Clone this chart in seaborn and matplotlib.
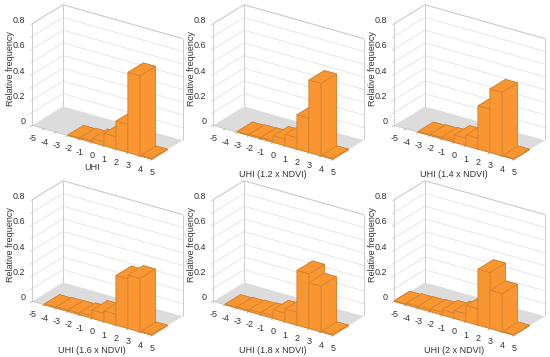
import numpy as np
import matplotlib
matplotlib.use('Agg')
import matplotlib.pyplot as plt
import seaborn as sns
from mpl_toolkits.mplot3d.art3d import Poly3DCollection

sns.set_theme(style='white', font='Liberation Sans')

bins = [-5, -4, -3, -2, -1, 0, 1, 2, 3, 4]
tick_labels = [-5, -4, -3, -2, -1, 0, 1, 2, 3, 4, 5]
z_major = [0, 0.2, 0.4, 0.6, 0.8]
z_grid = [0.1, 0.2, 0.3, 0.4, 0.5, 0.6, 0.7, 0.8]

uhi_10 = [0, 0, 0, 0.005, 0.01, 0.03, 0.096, 0.22, 0.63, 0.005]
uhi_12 = [0, 0, 0.005, 0.01, 0.012, 0.05, 0.088, 0.27, 0.57, 0.005]
uhi_14 = [0, 0, 0.005, 0.01, 0.015, 0.057, 0.085, 0.34, 0.50, 0.005]
uhi_16 = [0, 0.005, 0.01, 0.012, 0.02, 0.065, 0.085, 0.39, 0.42, 0.005]
uhi_18 = [0, 0.005, 0.01, 0.015, 0.02, 0.067, 0.10, 0.43, 0.36, 0.005]
uhi_20 = [0.005, 0.012, 0.015, 0.02, 0.04, 0.06, 0.127, 0.44, 0.30, 0.005]

panels = [uhi_10, uhi_12, uhi_14, uhi_16, uhi_18, uhi_20]
titles = ['UHI', 'UHI (1.2 x NDVI)', 'UHI (1.4 x NDVI)',
          'UHI (1.6 x NDVI)', 'UHI (1.8 x NDVI)', 'UHI (2 x NDVI)']
label_drop = [0.20, 0.25, 0.25, 0.25, 0.25, 0.25]

orange = '#fa9632'
edge = '#cf8230'
grid = '#e6e6e6'
frame = '#cccccc'
floor = '#dcdcdc'
text_col = '#333333'

W, H = 550, 357
side = 190

fig = plt.figure(figsize=(W / 100, H / 100), dpi=100)

for i, vals in enumerate(panels):
    row, col = divmod(i, 3)
    cx = 107.5 + 181 * col
    cy = H - (82 + 176 * row)
    ax = fig.add_axes([(cx - 0.5135 * side) / W, (cy - 0.5135 * side) / H, side / W, side / H],
                      projection='3d', computed_zorder=False)
    ax.patch.set_visible(False)
    ax.set_proj_type('ortho')
    ax.view_init(elev=24.6, azim=-55.8)
    ax.set_box_aspect((145, 55, 112), zoom=0.976)
    ax.set_xlim(-5, 5)
    ax.set_ylim(0, 1)
    ax.set_zlim(0, 0.8)
    ax.set_axis_off()

    # floor and walls
    ax.add_collection3d(Poly3DCollection([[(-5, 0, 0), (5, 0, 0), (5, 1, 0), (-5, 1, 0)]],
                                         facecolor=floor, edgecolor='none', zorder=1))
    for z in z_grid:
        ax.plot([-5, -5, 5], [0, 1, 1], [z, z, z], color=grid, lw=0.7, zorder=2)
        ax.plot([-5, -5], [0, -0.06], [z, z], color=frame, lw=0.5, zorder=2)
    ax.plot([-5, -5, 5], [0, 1, 1], [0.8, 0.8, 0.8], color=frame, lw=0.7, zorder=2)
    ax.plot([-5, -5], [1, 1], [0, 0.8], color=frame, lw=0.7, zorder=2)
    ax.plot([5, 5], [1, 1], [0, 0.8], color=frame, lw=0.7, zorder=2)
    ax.plot([-5, -5], [0, 0], [0, 0.8], color=frame, lw=0.7, zorder=2)
    ax.plot([-5, 5], [0, 0], [0, 0], color=frame, lw=0.7, zorder=2)

    # bars, empty bins are not drawn
    v = np.array(vals)
    x = np.array(bins, dtype=float)[v > 0]
    ax.bar3d(x, np.zeros(len(x)), np.zeros(len(x)), 1, 0.5, v[v > 0],
             color=orange, edgecolor=edge, linewidth=0.5, shade=False, zorder=3)

    for t in tick_labels:
        ax.plot([t, t], [0, -0.06], [0, 0], color='#aaaaaa', lw=0.6, zorder=2)
        ax.text(t, 0, -0.105, str(t), fontsize=6.5, color=text_col, ha='center', va='center')
    for z in z_major:
        ax.text(-5.55, 0, z + 0.012, f'{z:g}', fontsize=6.5, color=text_col, ha='right', va='center')
    ax.text(-6.8, 0, 0.40, 'Relative frequency', zdir='z', fontsize=6.5, color=text_col,
            ha='center', va='center')
    ax.text(0, 0, -label_drop[i], titles[i], fontsize=6.5, color=text_col, ha='center', va='center')

fig.savefig('out.png', dpi=100)
